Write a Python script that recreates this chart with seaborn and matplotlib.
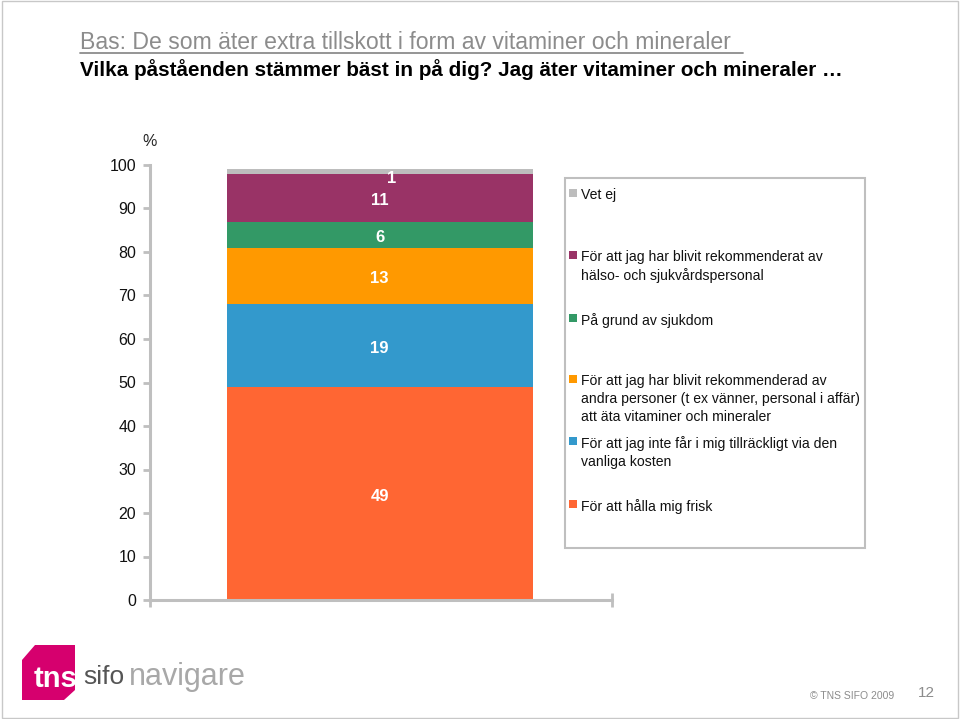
import matplotlib
matplotlib.use('Agg')
import matplotlib.pyplot as plt
import seaborn as sns
import pandas as pd
from matplotlib.patches import Rectangle, Polygon

sns.set_theme(style="white")
plt.rcParams['font.family'] = ['Liberation Sans', 'DejaVu Sans']

# Data (top of the stack first, as in the legend)
categories = [
    "Vet ej",
    "För att jag har blivit rekommenderat av\nhälso- och sjukvårdspersonal",
    "På grund av sjukdom",
    "För att jag har blivit rekommenderad av\nandra personer (t ex vänner, personal i affär)\natt äta vitaminer och mineraler",
    "För att jag inte får i mig tillräckligt via den\nvanliga kosten",
    "För att hålla mig frisk",
]
values = [1, 11, 6, 13, 19, 49]
colors = ["#BDBDBD", "#993366", "#339966", "#FF9900", "#3399CC", "#FF6633"]
yticks = [0, 10, 20, 30, 40, 50, 60, 70, 80, 90, 100]

W, H = 960, 719
fig = plt.figure(figsize=(W / 100, H / 100), dpi=100)


def px(x, y):
    return x / W, 1 - y / H


ax = fig.add_axes([150 / W, 1 - 600 / H, (612 - 150) / W, (600 - 165) / H])

# stacked bar: cumulative totals drawn tallest first
df = pd.DataFrame({"cat": categories, "val": values, "color": colors})
df = df.iloc[::-1].reset_index(drop=True)
df["top"] = df["val"].cumsum()
df["mid"] = df["top"] - df["val"] / 2

for _, row in df.iloc[::-1].iterrows():
    sns.barplot(x=["q"], y=[row["top"]], color=row["color"], saturation=1,
                width=0.8, linewidth=0, ax=ax)

for _, row in df.iterrows():
    if row["val"] == 1:
        ax.text(0.03, row["top"] - 2, str(row["val"]), ha="center", va="center",
                color="white", fontsize=12, fontweight="bold")
    else:
        ax.text(0, row["mid"] - 0.6, str(row["val"]), ha="center", va="center",
                color="white", fontsize=12, fontweight="bold")

ax.set_xlim(-0.6, 0.607)
ax.set_ylim(0, 100)
ax.set_yticks(yticks)
ax.set_yticklabels([str(t) for t in yticks], fontsize=11.5, color="#111111")
ax.set_xticks([-0.6, 0.607])
ax.set_xticklabels(["", ""])
ax.set_xlabel("")
ax.set_ylabel("")
for s in ["top", "right"]:
    ax.spines[s].set_visible(False)
for s in ["left", "bottom"]:
    ax.spines[s].set_color("#BFBFBF")
    ax.spines[s].set_linewidth(2.2)
ax.tick_params(axis="y", left=True, direction="out", length=5, width=2, color="#BFBFBF", pad=5)
ax.tick_params(axis="x", bottom=True, direction="inout", length=10, width=2, color="#BFBFBF")
fig.text(*px(150, 141), "%", ha="center", va="center", fontsize=11.5)

# legend box, drawn by hand to keep the Excel-style slot spacing
fig.patches.append(Rectangle(px(565, 548), 300 / W, 370 / H, transform=fig.transFigure,
                             fill=False, edgecolor="#BFBFBF", linewidth=1.5))
first_line = [193, 255, 318, 379, 441, 504]
for lab, col, y in zip(categories, colors, first_line):
    fig.patches.append(Rectangle(px(569, y + 4), 8 / W, 8 / H, transform=fig.transFigure,
                                 facecolor=col, edgecolor="none"))
    fig.text(*px(581, y - 5), lab, ha="left", va="top", fontsize=10.1,
             linespacing=1.35, color="#111111")

# headings
fig.text(*px(80, 49), "Bas: De som äter extra tillskott i form av vitaminer och mineraler",
         ha="left", va="baseline", fontsize=16.6, color="#8C8C8C")
fig.add_artist(plt.Line2D([80 / W, 743 / W], [1 - 52.5 / H, 1 - 52.5 / H], color="#8C8C8C", lw=1.3))
fig.text(*px(80, 70), "Vilka påståenden stämmer bäst in på dig? Jag äter vitaminer och mineraler …",
         ha="left", va="center", fontsize=14.9, fontweight="bold", color="black")

# footer logo
fig.patches.append(Polygon([px(22, 660), px(35, 645), px(75, 645), px(75, 690),
                            px(64, 700), px(22, 700)], closed=True,
                           transform=fig.transFigure, facecolor="#D6006E", edgecolor="none"))
fig.text(*px(34, 679), "tns", ha="left", va="center", fontsize=21, fontweight="bold", color="white")
fig.text(*px(83, 677), "sifo", ha="left", va="center", fontsize=19, color="#555555")
fig.text(*px(129, 677), "navigare", ha="left", va="center", fontsize=22, color="#A8A8A8")
fig.text(*px(810, 696), "© TNS SIFO 2009", ha="left", va="center", fontsize=7.5, color="#8C8C8C")
fig.text(*px(918, 693), "12", ha="left", va="center", fontsize=11, color="#8C8C8C")

fig.patches.append(Rectangle((0.002, 0.002), 0.996, 0.996, transform=fig.transFigure,
                             fill=False, edgecolor="#C8C8C8", linewidth=1))

fig.savefig("out.png", dpi=100)
